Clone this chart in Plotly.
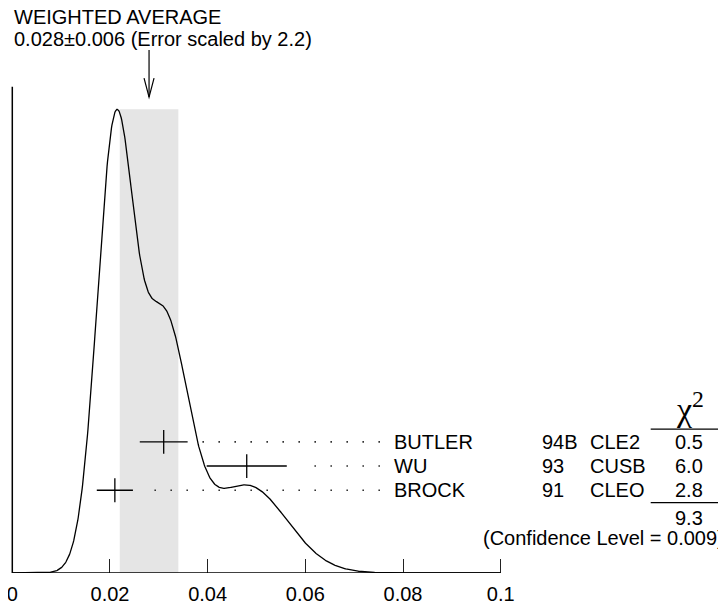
import numpy as np
import plotly.graph_objects as go

# ---------------- data ----------------
names = ["BUTLER", "WU", "BROCK"]
years = ["94B", "93", "91"]
expts = ["CLE2", "CUSB", "CLEO"]
values = [0.031, 0.048, 0.021]
errors = [0.0049, 0.0082, 0.0037]
chi2 = ["0.5", "6.0", "2.8"]
chi2_total = "9.3"
conf_level = "0.009"
avg_value = 0.028
avg_error = 0.006
err_scale = 2.2
tick_vals = [0, 0.02, 0.04, 0.06, 0.08, 0.1]
tick_text = ["0", "0.02", "0.04", "0.06", "0.08", "0.1"]

# ---------------- layout geometry (page pixels, minus body margin) ----------------
OFF = 8                # default page body margin
W, H = 726 - OFF, 607 - OFF
PPU = 4884.0           # pixels per x unit
X0PX = 12.3 - OFF      # pixel of x = 0
BASE_PX = 572.7 - OFF  # pixel row of the x axis line
PEAK_PX = 109.3 - OFF  # pixel row of the ideogram peak
ROW0_PX = 490.0 - OFF  # pixel row of the lowest measurement
ROW_STEP = 24.2
FONT = "Liberation Sans, Arial, sans-serif"
FS = 20


def py(p):  # reference page pixel row -> paper y
    return (BASE_PX - (p - OFF)) / BASE_PX


def row_of(p):  # reference page pixel row -> y2 row coordinate
    return (ROW0_PX - (p - OFF)) / ROW_STEP


def xd(p):  # reference page pixel column -> x data
    return ((p - OFF) - X0PX) / PPU


def xp(p):  # reference page pixel column -> paper x
    return (p - OFF) / W


# ---------------- ideogram ----------------
xs = np.linspace(0, 0.1, 1001)
ideo = np.zeros_like(xs)
for v, e in zip(values, errors):
    ideo += (1.0 / e**2) * np.exp(-0.5 * ((xs - v) / e) ** 2)
peak = ideo.max()
ymax = peak / ((BASE_PX - PEAK_PX) / BASE_PX)

n = len(names)
rows = [n - 1 - i for i in range(n)]

fig = go.Figure()

fig.add_trace(go.Scatter(x=xs, y=ideo, mode="lines",
                         line=dict(color="black", width=1.3),
                         hoverinfo="skip", yaxis="y"))

# dotted leader lines (drawn right-to-left so dots align at the label end)
label_x = xd(392)
dots_end = xd(380)
for i in range(n):
    start = values[i] + errors[i] + 0.003
    fig.add_trace(go.Scatter(x=[dots_end, start], y=[rows[i], rows[i]],
                             mode="lines", yaxis="y2",
                             line=dict(color="#333333", width=1.6, dash="1.6px,14.4px"),
                             hoverinfo="skip"))

# measurements with error bars
fig.add_trace(go.Scatter(
    x=values, y=rows, mode="markers", yaxis="y2",
    marker=dict(symbol="line-ns", size=17, line=dict(color="black", width=1.3)),
    error_x=dict(type="data", array=errors, width=0, thickness=1.4, color="black"),
    hoverinfo="skip"))

shapes = []
# weighted-average band
shapes.append(dict(type="rect", xref="x", yref="y",
                   x0=avg_value - avg_error, x1=avg_value + avg_error,
                   y0=0, y1=peak, fillcolor="#e5e5e5",
                   line=dict(width=0), layer="below"))
# axis lines
shapes.append(dict(type="line", xref="x", yref="y", x0=0, x1=0.1, y0=0, y1=0,
                   line=dict(color="black", width=1.5)))
shapes.append(dict(type="line", xref="x", yref="paper", x0=0, x1=0,
                   y0=0, y1=py(86.7), line=dict(color="black", width=1.5)))
# arrow to weighted average
ah = 5.0 / PPU
shapes.append(dict(type="line", xref="x", yref="paper", x0=avg_value, x1=avg_value,
                   y0=py(50), y1=py(97), line=dict(color="black", width=1.2)))
shapes.append(dict(type="path", xref="x", yref="paper",
                   path=f"M {avg_value - ah},{py(78)} L {avg_value},{py(97)} L {avg_value + ah},{py(78)}",
                   line=dict(color="black", width=1.2)))
# chi2 table rules
shapes.append(dict(type="line", xref="paper", yref="y2", x0=xp(650.7), x1=1,
                   y0=row_of(429), y1=row_of(429), line=dict(color="black", width=1.3)))
shapes.append(dict(type="line", xref="paper", yref="y2", x0=xp(650.7), x1=1,
                   y0=row_of(502.3), y1=row_of(502.3), line=dict(color="black", width=1.3)))

ann = []
tfont = dict(family=FONT, size=FS, color="black")
ann.append(dict(x=0, y=py(17), xref="x", yref="paper", text="WEIGHTED AVERAGE",
                showarrow=False, xanchor="left", yanchor="middle", font=tfont))
ann.append(dict(x=0, y=py(39), xref="x", yref="paper",
                text=f"{avg_value:.3f}\u00b1{avg_error:.3f} (Error scaled by {err_scale})",
                showarrow=False, xanchor="left", yanchor="middle", font=tfont))
for i in range(n):
    ann.append(dict(x=label_x, y=rows[i], xref="x", yref="y2", text=names[i],
                    showarrow=False, xanchor="left", yanchor="middle", font=tfont))
    ann.append(dict(x=xd(540), y=rows[i], xref="x", yref="y2", text=years[i],
                    showarrow=False, xanchor="left", yanchor="middle", font=tfont))
    ann.append(dict(x=xd(588), y=rows[i], xref="x", yref="y2", text=expts[i],
                    showarrow=False, xanchor="left", yanchor="middle", font=tfont))
    ann.append(dict(x=xd(689), y=rows[i], xref="x", yref="y2", text=chi2[i],
                    showarrow=False, xanchor="center", yanchor="middle", font=tfont))
ann.append(dict(x=xd(690), y=row_of(407), xref="x", yref="y2", text="\u03c7<sup>2</sup>",
                showarrow=False, xanchor="center", yanchor="middle",
                font=dict(family="Liberation Serif, Times New Roman, serif", size=34, color="black")))
ann.append(dict(x=xd(689), y=row_of(518), xref="x", yref="y2", text=chi2_total,
                showarrow=False, xanchor="center", yanchor="middle", font=tfont))
ann.append(dict(x=1, y=row_of(538), xref="paper", yref="y2",
                text=f"(Confidence Level = {conf_level})",
                showarrow=False, xanchor="right", yanchor="middle", font=tfont))

fig.update_layout(
    width=W, height=H,
    margin=dict(l=0, r=0, t=0, b=H - BASE_PX, pad=0),
    plot_bgcolor="white", paper_bgcolor="white",
    showlegend=False,
    shapes=shapes, annotations=ann,
    xaxis=dict(range=[-X0PX / PPU, (W - X0PX) / PPU], showgrid=False, zeroline=False,
               showline=False, tickmode="array", tickvals=tick_vals, ticktext=tick_text,
               ticks="inside", ticklen=14, tickwidth=1.4, tickcolor="#222222",
               ticklabeloverflow="allow", ticklabelstandoff=7,
               tickfont=dict(family=FONT, size=FS, color="black")),
    yaxis=dict(range=[0, ymax], visible=False),
    yaxis2=dict(range=[(ROW0_PX - BASE_PX) / ROW_STEP, ROW0_PX / ROW_STEP],
                overlaying="y", visible=False),
)

fig.write_html("out.html")
